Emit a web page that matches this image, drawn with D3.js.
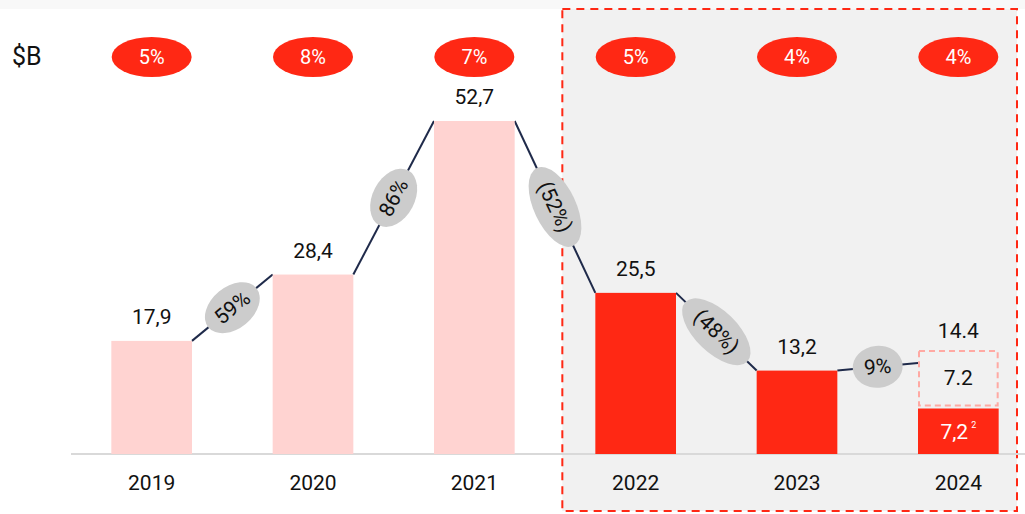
<!DOCTYPE html>
<html>
<head>
<meta charset="utf-8">
<script src="https://cdn.jsdelivr.net/npm/d3@7"></script>
<style>
  html, body { margin: 0; padding: 0; background: #fff; }
  svg { display: block; font-family: Roboto, "Noto Sans", sans-serif; }
</style>
</head>
<body>
<div id="chart"></div>
<script>
// data
const years = ["2019", "2020", "2021", "2022", "2023", "2024"];
const values = [17.9, 28.4, 52.7, 25.5, 13.2, 7.2];
const valueLabels = ["17,9", "28,4", "52,7", "25,5", "13,2", "7,2"];
const margins = ["5%", "8%", "7%", "5%", "4%", "4%"];
const growth = ["59%", "86%", "(52%)", "(48%)", "9%"];
const extra2024 = 7.2;       // dashed upper part of 2024
const extraLabel = "7.2";
const totalLabel = "14.4";
const forecastFrom = "2022"; // shaded block starts here

const width = 1025, height = 514;
const pink = "#ffd3d1", red = "#ff2814", grey = "#cccccc", navy = "#1f2a4a";
const fs = 21;

const svg = d3.select("#chart").append("svg")
  .attr("width", width).attr("height", height)
  .attr("viewBox", "0 0 " + width + " " + height);

const x = d3.scaleBand().domain(years).range([71, 1039])
  .paddingInner(0.5).paddingOuter(0.25);
const y = d3.scaleLinear().domain([0, 52.7]).range([454, 121]);

// faint band on top
svg.append("rect").attr("x", 0).attr("y", 0).attr("width", width).attr("height", 9)
  .attr("fill", "#f8f8f8");

// shaded forecast block
const fx = x(forecastFrom) - 33;
svg.append("rect")
  .attr("x", fx).attr("y", 9)
  .attr("width", 1017 - fx).attr("height", 502)
  .attr("fill", "#f1f1f1")
  .attr("stroke", red).attr("stroke-width", 2)
  .attr("stroke-dasharray", "8,6");

// axis line
svg.append("line").attr("x1", 71).attr("x2", width)
  .attr("y1", y(0)).attr("y2", y(0))
  .attr("stroke", "#d9d9d9").attr("stroke-width", 2);

// year labels
svg.selectAll(".year").data(years).enter().append("text")
  .attr("x", d => x(d) + x.bandwidth() / 2).attr("y", 490)
  .attr("text-anchor", "middle").attr("font-size", fs).attr("fill", "#111")
  .text(d => d);

// connector lines between bar tops
const pts = years.map((d, i) => ({
  left: x(d), right: x(d) + x.bandwidth(),
  top: i === years.length - 1 ? y(values[i] + extra2024) : y(values[i])
}));
const segs = growth.map((g, i) => ({
  x1: pts[i].right, y1: pts[i].top, x2: pts[i + 1].left, y2: pts[i + 1].top, label: g
}));
svg.selectAll(".conn").data(segs).enter().append("line")
  .attr("x1", d => d.x1).attr("y1", d => d.y1)
  .attr("x2", d => d.x2).attr("y2", d => d.y2)
  .attr("stroke", navy).attr("stroke-width", 2);

// bars
svg.selectAll(".bar").data(years).enter().append("rect")
  .attr("x", d => x(d)).attr("width", x.bandwidth())
  .attr("y", (d, i) => y(values[i]))
  .attr("height", (d, i) => y(0) - y(values[i]))
  .attr("fill", d => d >= forecastFrom ? red : pink);

// 2024 dashed upper box
const last = years[years.length - 1];
const boxTop = y(values[5] + extra2024) - 12, boxBot = y(values[5]) - 3;
svg.append("rect")
  .attr("x", x(last) + 1).attr("width", x.bandwidth() - 2)
  .attr("y", boxTop).attr("height", boxBot - boxTop)
  .attr("fill", "none").attr("stroke", "#ffa9a3").attr("stroke-width", 2)
  .attr("stroke-dasharray", "6,4");
svg.append("text")
  .attr("x", x(last) + x.bandwidth() / 2)
  .attr("y", (boxTop + boxBot) / 2 + 7)
  .attr("text-anchor", "middle").attr("font-size", fs).attr("fill", "#111")
  .text(extraLabel);
svg.append("text")
  .attr("x", x(last) + x.bandwidth() / 2)
  .attr("y", boxTop - 13)
  .attr("text-anchor", "middle").attr("font-size", fs).attr("fill", "#111")
  .text(totalLabel);

// value labels above bars (2024 label sits inside the bar)
svg.selectAll(".val").data(years.slice(0, 5)).enter().append("text")
  .attr("x", d => x(d) + x.bandwidth() / 2)
  .attr("y", (d, i) => y(values[i]) - 17)
  .attr("text-anchor", "middle").attr("font-size", fs).attr("fill", "#111")
  .text((d, i) => valueLabels[i]);
const inner = svg.append("text")
  .attr("x", x(last) + x.bandwidth() / 2)
  .attr("y", (y(values[5]) + y(0)) / 2 + 8)
  .attr("text-anchor", "middle").attr("font-size", fs).attr("fill", "#fff");
inner.append("tspan").text(valueLabels[5]);
inner.append("tspan").attr("font-size", 9).attr("dx", 3).attr("dy", -11).text("2");

// growth ellipses on connectors
const g = svg.selectAll(".growth").data(segs).enter().append("g")
  .attr("transform", d => {
    const ang = Math.atan2(d.y2 - d.y1, d.x2 - d.x1) * 180 / Math.PI;
    return "translate(" + (d.x1 + d.x2) / 2 + "," + (d.y1 + d.y2) / 2 + ") rotate(" + ang + ")";
  });
g.append("ellipse")
  .attr("rx", d => d.label.length * 6 + 13).attr("ry", 21)
  .attr("fill", grey);
g.append("text")
  .attr("text-anchor", "middle").attr("dy", 7)
  .attr("font-size", fs).attr("fill", "#111")
  .text(d => d.label);

// margin pills on top
const pill = svg.selectAll(".pill").data(years).enter().append("g")
  .attr("transform", d => "translate(" + (x(d) + x.bandwidth() / 2) + ",57)");
pill.append("ellipse").attr("rx", 40).attr("ry", 20).attr("fill", red);
pill.append("text").attr("text-anchor", "middle").attr("dy", 7)
  .attr("font-size", 20).attr("fill", "#fff")
  .text((d, i) => margins[i]);

// unit
svg.append("text").attr("x", 12).attr("y", 65)
  .attr("font-size", 25).attr("fill", "#111").text("$B");
</script>
</body>
</html>
